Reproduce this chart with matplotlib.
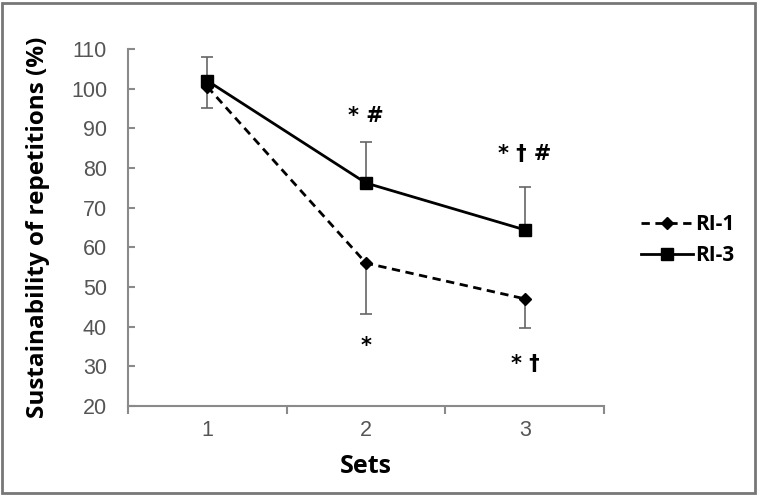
import matplotlib
matplotlib.use("Agg")
import matplotlib.pyplot as plt
from matplotlib.patches import Rectangle

sets = [1, 2, 3]
ri1_mean = [100.5, 56.0, 47.0]
ri1_err = [5.5, 12.8, 7.4]
ri3_mean = [102.0, 76.2, 64.4]
ri3_err = [6.0, 10.3, 10.7]

# significance marks: (set, y value, text)
marks_above = [(2, 93.0, "* #"), (3, 83.5, "* † #")]
marks_below = [(2, 35.0, "*"), (3, 30.5, "* †")]

yticks = list(range(20, 111, 10))

bold_font = ["Open Sans", "DejaVu Sans"]
axis_gray = "#8a8a8a"

fig = plt.figure(figsize=(7.61, 4.95), dpi=100)
ax = fig.add_axes([0.168, 0.180, 0.626, 0.721])

# error bars, one-sided
ax.errorbar(sets, ri3_mean, yerr=[[0] * 3, ri3_err], fmt="none", ecolor="#666666",
            elinewidth=1.2, capsize=4, capthick=1.2, zorder=2)
ax.errorbar(sets, ri1_mean, yerr=[ri1_err, [0] * 3], fmt="none", ecolor="#666666",
            elinewidth=1.2, capsize=4, capthick=1.2, zorder=2)

l1, = ax.plot(sets, ri1_mean, color="black", linestyle=(0, (3, 2)), linewidth=2,
              marker="D", markersize=6, label="RI-1", zorder=3)
l3, = ax.plot(sets, ri3_mean, color="black", linestyle="-", linewidth=2,
              marker="s", markersize=9, label="RI-3", zorder=4)

for x, y, t in marks_above + marks_below:
    ax.text(x, y, t, ha="center", va="center", fontsize=15, fontweight="bold",
            family="DejaVu Sans")

ax.set_xlim(0.5, 3.5)
ax.set_ylim(20, 110)
ax.set_yticks(yticks)
ax.set_xticks(sets)
ax.set_xticks([0.5, 1.5, 2.5, 3.5], minor=True)
ax.tick_params(axis="x", which="major", length=0, pad=10)
ax.tick_params(axis="x", which="minor", length=6, width=1.5, color=axis_gray, direction="out")
ax.tick_params(axis="y", length=5, width=1.5, color=axis_gray, direction="in", pad=15)
for lab in ax.get_xticklabels() + ax.get_yticklabels():
    lab.set_fontfamily("Liberation Sans")
    lab.set_fontsize(15.5)
    lab.set_color("#555555")

for side in ["top", "right"]:
    ax.spines[side].set_visible(False)
for side in ["left", "bottom"]:
    ax.spines[side].set_color(axis_gray)
    ax.spines[side].set_linewidth(1.5)

ax.set_xlabel("Sets", fontsize=18, fontweight="bold", family=bold_font, va="center")
ax.xaxis.set_label_coords(0.5, -0.171)
ax.set_ylabel("Sustainability of repetitions (%)", fontsize=17.5, fontweight="bold",
              family=bold_font, va="center")
ax.yaxis.set_label_coords(-0.189, 0.5)

leg = fig.legend(handles=[l1, l3], loc="center left", bbox_to_anchor=(0.818, 0.515),
                 frameon=False, handlelength=2.5, handletextpad=0.1, labelspacing=0.5,
                 prop={"family": bold_font, "weight": "bold", "size": 15})

fig.patches.append(Rectangle((0.002, 0.004), 0.99, 0.99, transform=fig.transFigure,
                             fill=False, edgecolor="#777777", linewidth=2))

fig.savefig("out.png", dpi=100)
